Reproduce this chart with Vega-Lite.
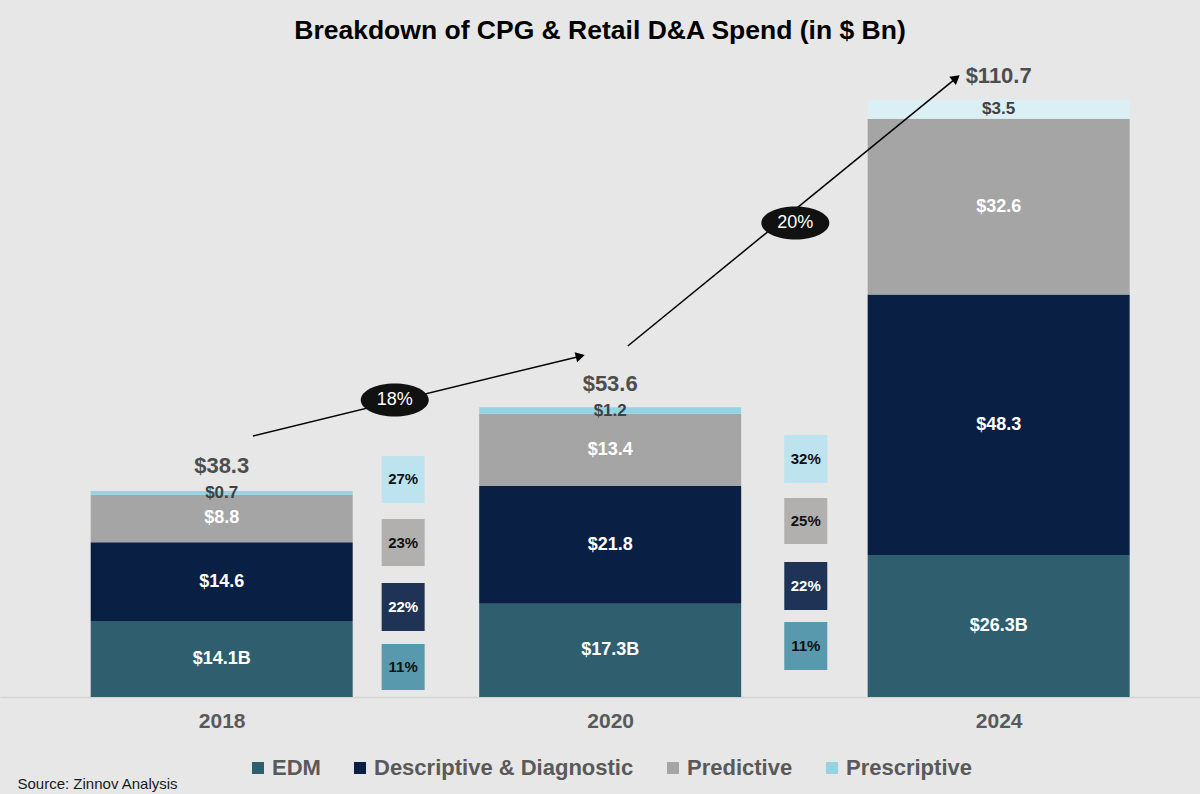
{
  "$schema": "https://vega.github.io/schema/vega-lite/v6.json",
  "autosize": {"type": "none"},
  "width": 1200,
  "height": 637,
  "padding": {"top": 60, "left": 0, "right": 0, "bottom": 97},
  "background": "#e7e7e7",
  "title": {"text": "Breakdown of CPG & Retail D&A Spend (in $ Bn)", "font": "Liberation Sans", "fontSize": 26.5, "fontWeight": "bold", "color": "#000000", "anchor": "middle", "offset": 16},
  "config": {"view": {"stroke": null}, "font": "Liberation Sans"},
  "datasets": {
    "spend": [
      {"year": "2018", "slot": 0, "segment": "EDM", "value": 14.1, "label": "$14.1B"},
      {"year": "2018", "slot": 0, "segment": "Descriptive & Diagnostic", "value": 14.6, "label": "$14.6"},
      {"year": "2018", "slot": 0, "segment": "Predictive", "value": 8.8, "label": "$8.8"},
      {"year": "2018", "slot": 0, "segment": "Prescriptive", "value": 0.7, "label": "$0.7"},
      {"year": "2020", "slot": 1, "segment": "EDM", "value": 17.3, "label": "$17.3B"},
      {"year": "2020", "slot": 1, "segment": "Descriptive & Diagnostic", "value": 21.8, "label": "$21.8"},
      {"year": "2020", "slot": 1, "segment": "Predictive", "value": 13.4, "label": "$13.4"},
      {"year": "2020", "slot": 1, "segment": "Prescriptive", "value": 1.2, "label": "$1.2"},
      {"year": "2024", "slot": 2, "segment": "EDM", "value": 26.3, "label": "$26.3B"},
      {"year": "2024", "slot": 2, "segment": "Descriptive & Diagnostic", "value": 48.3, "label": "$48.3"},
      {"year": "2024", "slot": 2, "segment": "Predictive", "value": 32.6, "label": "$32.6"},
      {"year": "2024", "slot": 2, "segment": "Prescriptive", "value": 3.5, "label": "$3.5"}
    ],
    "totals": [
      {"year": "2018", "slot": 0, "total": 38.3, "label": "$38.3"},
      {"year": "2020", "slot": 1, "total": 53.6, "label": "$53.6"},
      {"year": "2024", "slot": 2, "total": 110.7, "label": "$110.7"}
    ],
    "cagr": [
      {"period": "2018-2020", "slot": 0.4671, "segment": "Prescriptive", "pct": "27%", "top": 44.67, "bottom": 35.96},
      {"period": "2018-2020", "slot": 0.4671, "segment": "Predictive", "pct": "23%", "top": 32.99, "bottom": 24.28},
      {"period": "2018-2020", "slot": 0.4671, "segment": "Descriptive & Diagnostic", "pct": "22%", "top": 21.13, "bottom": 12.23},
      {"period": "2018-2020", "slot": 0.4671, "segment": "EDM", "pct": "11%", "top": 9.82, "bottom": 1.3},
      {"period": "2020-2024", "slot": 1.5035, "segment": "Prescriptive", "pct": "32%", "top": 48.56, "bottom": 39.67},
      {"period": "2020-2024", "slot": 1.5035, "segment": "Predictive", "pct": "25%", "top": 36.89, "bottom": 28.36},
      {"period": "2020-2024", "slot": 1.5035, "segment": "Descriptive & Diagnostic", "pct": "22%", "top": 25.02, "bottom": 16.13},
      {"period": "2020-2024", "slot": 1.5035, "segment": "EDM", "pct": "11%", "top": 13.9, "bottom": 5.0}
    ],
    "arrows": [
      {"arrow": "a1", "slot": 0.0804, "y": 48.38},
      {"arrow": "a1", "slot": 0.9231, "y": 63.17},
      {"arrow": "a2", "slot": 1.0453, "y": 65.06},
      {"arrow": "a2", "slot": 1.8905, "y": 114.72}
    ],
    "heads": [
      {"arrow": "a1", "slot": 0.9231, "y": 63.17},
      {"arrow": "a2", "slot": 1.8905, "y": 114.72}
    ],
    "growth": [
      {"period": "2018-2020", "slot": 0.4454, "y": 55.05, "label": "18%"},
      {"period": "2020-2024", "slot": 1.4766, "y": 87.86, "label": "20%"}
    ]
  },
  "encoding": {
    "x": {
      "field": "slot",
      "type": "quantitative",
      "scale": {"domain": [-0.5578, 2.5054], "nice": false, "zero": false},
      "axis": {
        "values": [0, 1, 2],
        "labelExpr": "datum.value == 0 ? '2018' : datum.value == 1 ? '2020' : '2024'",
        "labelFont": "Liberation Sans",
        "labelFontSize": 21,
        "labelFontWeight": "bold",
        "labelColor": "#595959",
        "labelPadding": 13,
        "ticks": false,
        "grid": false,
        "domainColor": "#d4d4d4",
        "domainWidth": 1.5,
        "title": "Source: Zinnov Analysis",
        "titleX": 17,
        "titleY": 91,
        "titleAlign": "left",
        "titleAnchor": "start",
        "titleBaseline": "alphabetic",
        "titleFont": "Liberation Sans",
        "titleFontSize": 15,
        "titleFontWeight": "normal",
        "titleColor": "#1a1a1a"
      }
    }
  },
  "layer": [
    {
      "data": {"name": "spend"},
      "transform": [{"stack": "value", "groupby": ["year"], "as": ["v0", "v1"]}],
      "mark": {"type": "bar", "width": 262},
      "encoding": {
        "y": {"field": "v0", "type": "quantitative", "scale": {"domain": [0, 118.07], "nice": false, "zero": true}, "axis": null},
        "y2": {"field": "v1"},
        "color": {
          "condition": {"test": "datum.year === '2024' && datum.segment === 'Prescriptive'", "value": "#daf0f5"},
          "field": "segment",
          "type": "nominal",
          "scale": {"domain": ["EDM", "Descriptive & Diagnostic", "Predictive", "Prescriptive"], "range": ["#2f5f6e", "#0a1f44", "#a5a5a5", "#93d3e4"]},
          "legend": {
            "orient": "none", "legendX": 247, "legendY": 697, "direction": "horizontal", "title": null,
            "symbolType": "square", "symbolSize": 144, "symbolStrokeWidth": 0,
            "labelFont": "Liberation Sans", "labelFontSize": 22, "labelFontWeight": "bold", "labelColor": "#595959",
            "labelOffset": 3, "columnPadding": 28, "labelLimit": 400
          }
        }
      }
    },
    {
      "data": {"name": "spend"},
      "transform": [
        {"stack": "value", "groupby": ["year"], "as": ["v0", "v1"]},
        {"calculate": "(datum.v0 + datum.v1) / 2", "as": "mid"}
      ],
      "mark": {"type": "text", "font": "Liberation Sans", "fontWeight": "bold", "align": "center", "baseline": "middle"},
      "encoding": {
        "y": {"field": "mid", "type": "quantitative", "scale": {"domain": [0, 118.07], "nice": false, "zero": true}, "axis": null},
        "text": {"field": "label"},
        "color": {"condition": {"test": "datum.segment === 'Prescriptive'", "value": "#404040"}, "value": "#ffffff"},
        "size": {"condition": {"test": "datum.segment === 'Prescriptive'", "value": 17}, "value": 18}
      }
    },
    {
      "data": {"name": "totals"},
      "mark": {"type": "text", "font": "Liberation Sans", "fontWeight": "bold", "fontSize": 22, "align": "center", "baseline": "alphabetic", "dy": -17, "color": "#4d4d4d"},
      "encoding": {
        "y": {"field": "total", "type": "quantitative", "scale": {"domain": [0, 118.07], "nice": false, "zero": true}, "axis": null},
        "text": {"field": "label"}
      }
    },
    {
      "data": {"name": "cagr"},
      "mark": {"type": "bar", "width": 43},
      "encoding": {
        "y": {"field": "top", "type": "quantitative", "scale": {"domain": [0, 118.07], "nice": false, "zero": true}, "axis": null},
        "y2": {"field": "bottom"},
        "fill": {
          "field": "segment", "type": "nominal",
          "scale": {"domain": ["EDM", "Descriptive & Diagnostic", "Predictive", "Prescriptive"], "range": ["#5899ad", "#1f3357", "#b2b0ae", "#bde3ee"]},
          "legend": null
        }
      }
    },
    {
      "data": {"name": "cagr"},
      "transform": [{"calculate": "(datum.top + datum.bottom) / 2", "as": "mid"}],
      "mark": {"type": "text", "font": "Liberation Sans", "fontWeight": "bold", "fontSize": 15, "align": "center", "baseline": "middle"},
      "encoding": {
        "y": {"field": "mid", "type": "quantitative", "scale": {"domain": [0, 118.07], "nice": false, "zero": true}, "axis": null},
        "text": {"field": "pct"},
        "color": {"condition": {"test": "datum.segment === 'Descriptive & Diagnostic'", "value": "#ffffff"}, "value": "#111111"}
      }
    },
    {
      "data": {"name": "arrows"},
      "mark": {"type": "line", "color": "#000000", "strokeWidth": 1.5},
      "encoding": {
        "y": {"field": "y", "type": "quantitative", "scale": {"domain": [0, 118.07], "nice": false, "zero": true}, "axis": null},
        "detail": {"field": "arrow"}
      }
    },
    {
      "data": {"name": "heads"},
      "mark": {"type": "point", "shape": "triangle-up", "filled": true, "size": 110, "color": "#000000", "opacity": 1, "strokeWidth": 0},
      "encoding": {
        "y": {"field": "y", "type": "quantitative", "scale": {"domain": [0, 118.07], "nice": false, "zero": true}, "axis": null},
        "angle": {"condition": {"test": "datum.arrow === 'a1'", "value": 76.4}, "value": 51}
      }
    },
    {
      "data": {"name": "growth"},
      "mark": {"type": "point", "shape": "M -1 0 A 1 0.485 0 1 1 1 0 A 1 0.485 0 1 1 -1 0 Z", "filled": true, "size": 4624, "color": "#111111", "opacity": 1, "strokeWidth": 0},
      "encoding": {
        "y": {"field": "y", "type": "quantitative", "scale": {"domain": [0, 118.07], "nice": false, "zero": true}, "axis": null}
      }
    },
    {
      "data": {"name": "growth"},
      "mark": {"type": "text", "font": "Liberation Sans", "fontSize": 18, "align": "center", "baseline": "middle", "color": "#ffffff"},
      "encoding": {
        "y": {"field": "y", "type": "quantitative", "scale": {"domain": [0, 118.07], "nice": false, "zero": true}, "axis": null},
        "text": {"field": "label"}
      }
    }
  ]
}
